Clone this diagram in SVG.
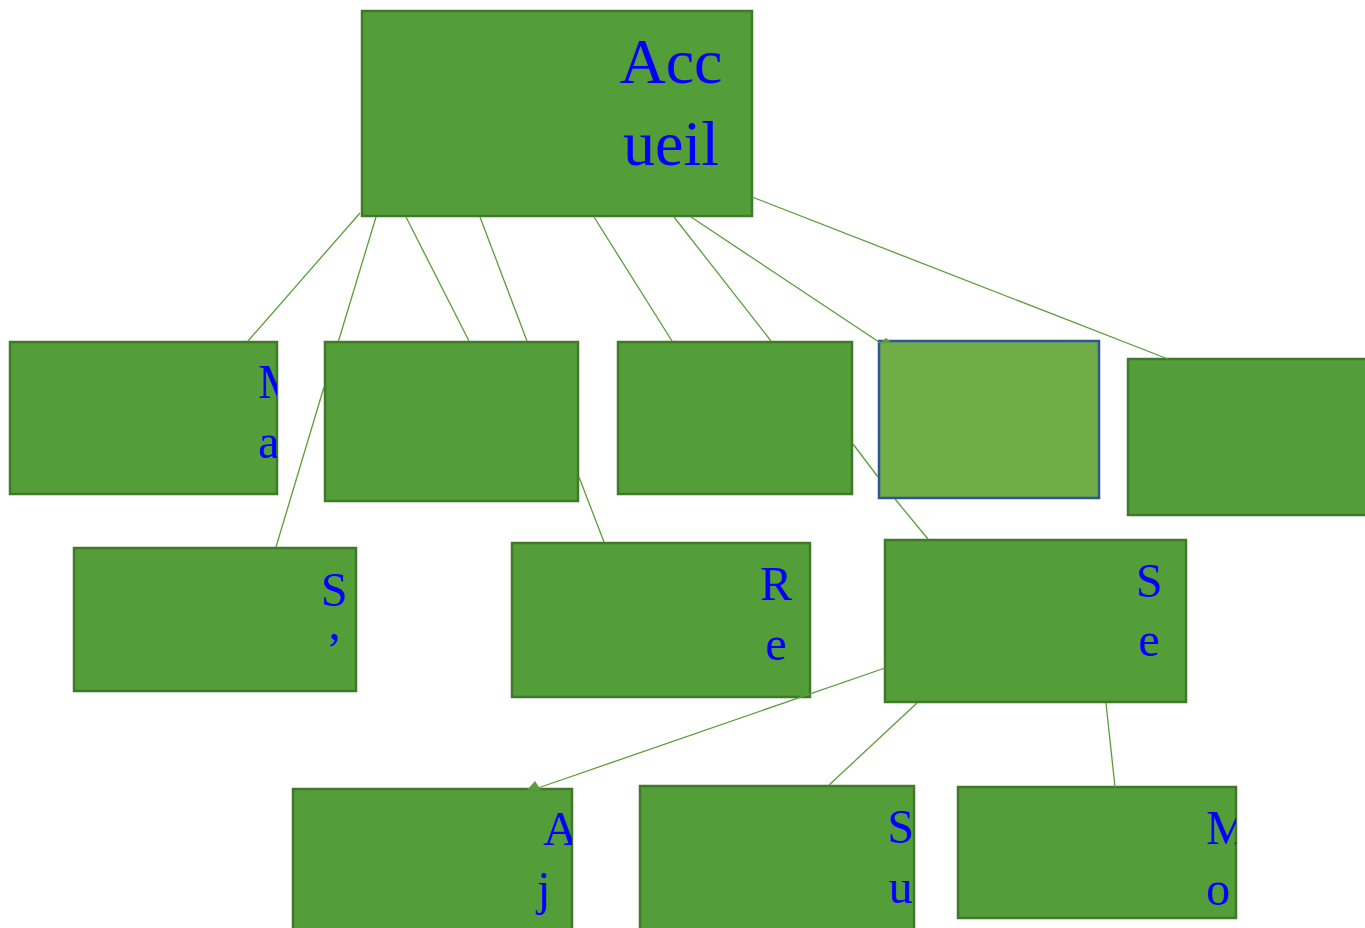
<svg xmlns="http://www.w3.org/2000/svg" width="1365" height="928" viewBox="0 0 1365 928">
<style>
.box{fill:#549E39;stroke:#41792B;stroke-width:2.5}
.sel{fill:#70AD47;stroke:#2F5597;stroke-width:2.5}
.t{font-family:"Liberation Serif","Times New Roman",serif;font-size:48px;fill:#0000FF}
.big{font-size:64px}
.c line{stroke:#5A9E3C;stroke-width:1.3;fill:none}
.c polygon{fill:#5A9E3C}
</style>
<defs>
<clipPath id="c1"><rect x="10" y="342" width="267" height="152"/></clipPath>
<clipPath id="c2"><rect x="325" y="342" width="253" height="159"/></clipPath>
<clipPath id="c9"><rect x="293" y="789" width="279" height="139"/></clipPath>
<clipPath id="c11"><rect x="958" y="787" width="278" height="131"/></clipPath>
</defs>
<rect width="1365" height="928" fill="#FFFFFF"/>
<g id="n-accueil">
<rect class="box" x="362" y="11" width="390" height="205"/>
<text class="t big" x="671" y="83" text-anchor="middle">Acc</text>
<text class="t big" x="671" y="165" text-anchor="middle">ueil</text>
</g>
<g id="n1">
<rect class="box" x="10" y="342" width="267" height="152"/>
<g clip-path="url(#c1)"><text class="t" x="258" y="398">M</text><text class="t" x="258" y="458">a</text></g>
</g>
<g id="n2">
<rect class="box" x="325" y="342" width="253" height="159"/>
<g clip-path="url(#c2)"><text class="t" x="576" y="460">S</text></g>
</g>
<g id="n3"><rect class="box" x="618" y="342" width="234" height="152"/></g>
<g id="n4"><rect class="sel" x="879" y="341" width="220" height="157"/></g>
<g id="n5"><rect class="box" x="1128" y="359" width="240" height="156"/></g>
<g id="n6">
<rect class="box" x="74" y="548" width="282" height="143"/>
<text class="t" x="334" y="606" text-anchor="middle">S</text>
<text class="t" x="334" y="666" text-anchor="middle">’</text>
</g>
<g id="n7">
<rect class="box" x="512" y="543" width="298" height="154"/>
<text class="t" x="776" y="600" text-anchor="middle">R</text>
<text class="t" x="776" y="660" text-anchor="middle">e</text>
</g>
<g id="n8">
<rect class="box" x="885" y="540" width="301" height="162"/>
<text class="t" x="1149" y="597" text-anchor="middle">S</text>
<text class="t" x="1149" y="656" text-anchor="middle">e</text>
</g>
<g id="n9">
<rect class="box" x="293" y="789" width="279" height="145"/>
<g clip-path="url(#c9)"><text class="t" x="543" y="845">A</text><text class="t" x="537" y="905">j</text></g>
</g>
<g id="n10">
<rect class="box" x="640" y="786" width="274" height="148"/>
<text class="t" x="900.5" y="843" text-anchor="middle">S</text>
<text class="t" x="900.5" y="903" text-anchor="middle">u</text>
</g>
<g id="n11">
<rect class="box" x="958" y="787" width="278" height="131"/>
<g clip-path="url(#c11)"><text class="t" x="1206" y="844">M</text><text class="t" x="1206" y="905">o</text></g>
</g>
<g id="connectors" class="c">
<line x1="360" y1="213" x2="248" y2="341"/>
<line x1="376" y1="217" x2="338.5" y2="341"/>
<line x1="324" y1="387" x2="276" y2="547"/>
<line x1="406" y1="217" x2="469" y2="341"/>
<line x1="480" y1="217" x2="527" y2="341"/>
<line x1="579" y1="477" x2="604" y2="542"/>
<line x1="594" y1="217" x2="672" y2="341"/>
<line x1="674" y1="217" x2="771" y2="341"/>
<line x1="853" y1="444" x2="878" y2="477"/>
<line x1="895" y1="499" x2="928" y2="539"/>
<line x1="691" y1="217" x2="882" y2="344"/>
<line x1="752" y1="197" x2="1168" y2="359"/>
<line x1="885" y1="668" x2="538" y2="788"/>
<line x1="917" y1="703" x2="828" y2="786"/>
<line x1="1106" y1="703" x2="1115" y2="787"/>
<polygon points="880,343 886,338 892,343"/>
<polygon points="527,790 535,781 541,790"/>
</g>
</svg>
